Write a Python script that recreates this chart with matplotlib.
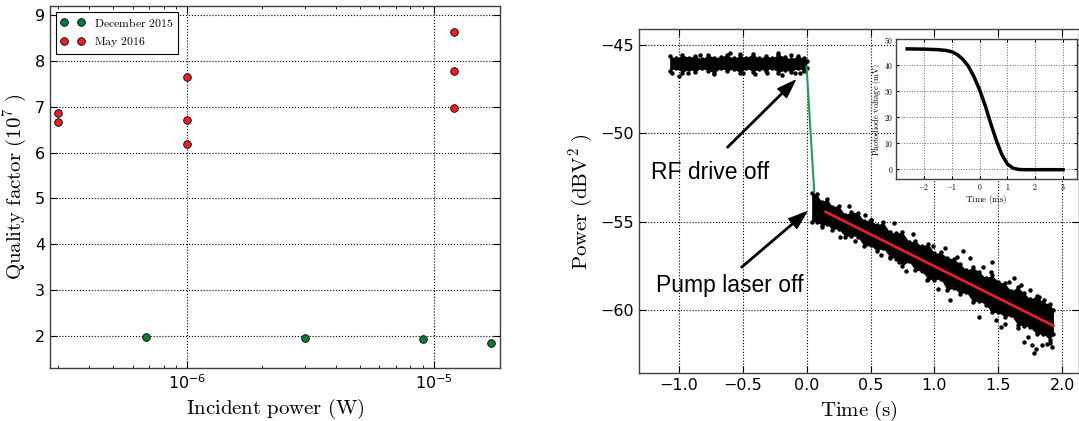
import numpy as np
import matplotlib.pyplot as plt

plt.rcParams['mathtext.fontset'] = 'cm'
plt.rcParams['axes.linewidth'] = 1.0
plt.rcParams['axes.edgecolor'] = '0.25'

# --- left panel: quality factor vs incident power ---
dec_power = [6.8e-7, 3.0e-6, 9.0e-6, 1.71e-5]
dec_q = [1.97, 1.95, 1.93, 1.84]
may_power = [3.0e-7, 3.0e-7, 1.0e-6, 1.0e-6, 1.0e-6, 1.2e-5, 1.2e-5, 1.2e-5]
may_q = [6.87, 6.67, 7.65, 6.72, 6.19, 8.63, 7.77, 6.98]

# --- right panel: ringdown (noisy trace as envelope + stray points) ---
pl_t = [-1.07, -1.02, -0.97, -0.92, -0.87, -0.82, -0.77, -0.72, -0.67, -0.62, -0.57, -0.52,
        -0.47, -0.42, -0.37, -0.32, -0.27, -0.22, -0.17, -0.12, -0.07, -0.02, 0.0]
pl_hi = [-45.6, -45.75, -45.55, -45.7, -45.6, -45.8, -45.55, -45.7, -45.65, -45.55, -45.75, -45.6,
         -45.7, -45.5, -45.75, -45.6, -45.7, -45.55, -45.65, -45.8, -45.6, -45.75, -45.9]
pl_lo = [-46.45, -46.3, -46.55, -46.35, -46.5, -46.3, -46.45, -46.55, -46.3, -46.45, -46.35, -46.55,
         -46.3, -46.5, -46.35, -46.45, -46.3, -46.55, -46.4, -46.5, -46.3, -46.45, -46.3]

dc_t = [0.04, 0.08, 0.12, 0.16, 0.20, 0.25, 0.30, 0.35, 0.40, 0.45, 0.50, 0.55, 0.60, 0.65,
        0.70, 0.75, 0.80, 0.85, 0.90, 0.95, 1.00, 1.05, 1.10, 1.15, 1.20, 1.25, 1.30, 1.35,
        1.40, 1.45, 1.50, 1.55, 1.60, 1.65, 1.70, 1.75, 1.80, 1.85, 1.90, 1.93]
dc_hi = [-53.4, -53.45, -53.9, -53.7, -54.15, -54.1, -54.6, -54.45, -54.5, -54.95, -54.9, -55.2,
         -55.05, -55.6, -55.65, -55.6, -56.15, -56.1, -56.4, -56.25, -56.8, -56.75, -57.05, -57.1,
         -57.4, -57.75, -57.6, -57.85, -58.2, -58.05, -58.4, -58.5, -58.95, -58.7, -59.05, -59.4,
         -59.2, -59.6, -59.65, -60.0]
dc_lo = [-55.0, -55.0, -55.2, -55.15, -55.45, -55.4, -55.85, -55.8, -55.85, -56.4, -56.35, -56.65,
         -56.5, -57.0, -57.1, -57.5, -57.25, -57.75, -57.8, -58.25, -58.3, -58.25, -58.9, -58.75,
         -59.1, -59.0, -59.55, -59.5, -59.7, -60.15, -60.15, -60.4, -60.3, -60.85, -60.9, -61.0,
         -61.4, -61.35, -61.7, -61.4]

stray_t = [-1.0, -0.93, -0.72, -0.5, -0.31, -0.19, -0.09, -0.22, -0.52, -0.83, -0.12,
           -1.05, -0.6, -0.4, -0.05,
           0.26, 0.50, 0.46, 0.68, 0.38, 0.65, 0.72, 0.94, 0.90, 1.22, 1.45, 1.28, 1.35,
           1.44, 1.12, 1.75, 1.73, 1.79, 1.65, 1.90, 1.86, 1.58, 0.99, 1.78, 1.84, 1.88,
           1.70, 1.62, 1.52, 0.12, 0.33, 0.58, 0.83, 1.03, 1.18, 1.38, 1.55, 1.68, 1.82,
           1.92, 1.76, 0.78, 1.08, 1.48]
stray_p = [-46.75, -46.6, -46.65, -46.6, -46.55, -46.7, -46.55, -45.45, -45.5, -45.55, -45.55,
           -46.6, -45.45, -46.65, -46.6,
           -55.85, -54.9, -54.6, -55.1, -56.1, -57.06, -57.3, -58.3, -57.6, -56.65, -57.27,
           -57.05, -60.4, -57.84, -59.45, -58.9, -61.53, -62.2, -61.06, -61.9, -59.45, -58.4,
           -56.4, -62.45, -62.0, -61.95, -61.8, -58.2, -61.0, -55.3, -54.1, -56.9, -55.7,
           -58.8, -57.0, -57.6, -60.8, -58.6, -59.3, -62.1, -62.0, -57.8, -56.5, -60.6]

drop_t = [0.0, 0.06]
drop_p = [-46.2, -53.3]
fit_t = [0.15, 1.93]
fit_p = [-54.45, -60.9]

# --- inset: photodiode voltage ---
pd_t = [-2.6, -2.0, -1.5, -1.2, -1.0, -0.8, -0.6, -0.4, -0.2, 0.0, 0.2, 0.4, 0.6, 0.8,
        1.0, 1.2, 1.4, 1.6, 2.0, 2.5, 3.0]
pd_v = [46.2, 46.1, 45.9, 45.6, 45.1, 44.0, 42.2, 39.5, 35.5, 30.5, 24.5, 17.5, 11.0, 5.5,
        1.8, 0.2, -0.3, -0.4, -0.4, -0.4, -0.4]

green = '#0b7a3c'
red = '#e8202a'

fig = plt.figure(figsize=(10.79, 4.21), dpi=100)


def style(ax, size):
    ax.grid(True, which='major', linestyle=':', color='k', lw=0.8)
    ax.tick_params(which='both', direction='in', top=True, right=True, labelsize=size)
    ax.tick_params(which='major', length=5)
    ax.tick_params(which='minor', length=2.5)


ax1 = fig.add_axes([0.0463, 0.1259, 0.417, 0.860])
ax1.set_xscale('log')
ax1.plot(dec_power, dec_q, 'o', color=green, mec='k', mew=0.6, ms=5.5,
         label=r'$\mathrm{December\ 2015}$')
ax1.plot(may_power, may_q, 'o', color=red, mec='k', mew=0.6, ms=5.5,
         label=r'$\mathrm{May\ 2016}$')
ax1.set_xlim(2.77e-7, 1.85e-5)
ax1.set_ylim(1.3, 9.2)
ax1.set_yticks(range(2, 10))
style(ax1, 11.5)
ax1.set_xlabel(r'$\mathrm{Incident\ power\ (W)}$', fontsize=15)
ax1.set_ylabel(r'$\mathrm{Quality\ factor\ (10^7\ )}$', fontsize=15)
leg = ax1.legend(loc='upper left', numpoints=2, fontsize=8.5, fancybox=False,
                 edgecolor='k', framealpha=1)
leg.get_frame().set_linewidth(0.8)

ax2 = fig.add_axes([0.5922, 0.1133, 0.4078, 0.817])
ax2.fill_between(pl_t, pl_lo, pl_hi, color='k', lw=0)
ax2.fill_between(dc_t, dc_lo, dc_hi, color='k', lw=0)
for tt, pp in [(pl_t, pl_hi), (pl_t, pl_lo), (dc_t, dc_hi), (dc_t, dc_lo), (stray_t, stray_p)]:
    ax2.plot(tt, pp, 'o', color='k', ms=3.2, mew=0)
ax2.plot(drop_t, drop_p, color='#1f9e5a', lw=1.5)
ax2.plot(fit_t, fit_p, color=red, lw=2)
ax2.set_xlim(-1.31, 2.13)
ax2.set_ylim(-63.6, -44.1)
ax2.set_yticks([-60, -55, -50, -45])
ax2.set_xticks([-1.0, -0.5, 0.0, 0.5, 1.0, 1.5, 2.0])
style(ax2, 11.5)
ax2.set_xlabel(r'$\mathrm{Time\ (s)}$', fontsize=15)
ax2.set_ylabel(r'$\mathrm{Power\ (dBV^2\ )}$', fontsize=15)

arrow = dict(facecolor='k', edgecolor='k', width=1.0, headwidth=9, headlength=13, shrink=0)
ax2.annotate('', xy=(-0.09, -47.0), xytext=(-0.62, -50.8), arrowprops=arrow)
ax2.annotate('', xy=(0.0, -54.45), xytext=(-0.51, -57.6), arrowprops=arrow)
ax2.text(-0.75, -52.2, 'RF drive off', fontsize=16.5, family='Liberation Sans',
         ha='center', va='center')
ax2.text(-0.60, -58.6, 'Pump laser off', fontsize=16.5, family='Liberation Sans',
         ha='center', va='center')

ax3 = fig.add_axes([0.8304, 0.5748, 0.1677, 0.3325])
ax3.plot(pd_t, pd_v, color='k', lw=2.5)
ax3.set_xlim(-3, 3.5)
ax3.set_ylim(-4, 50)
xt = [-2, -1, 0, 1, 2, 3]
yt = [0, 10, 20, 30, 40, 50]
ax3.set_xticks(xt, labels=[f'${v}$' for v in xt])
ax3.set_yticks(yt, labels=[f'${v}$' for v in yt])
ax3.grid(True, linestyle=':', color='0.4', lw=0.7)
ax3.tick_params(direction='in', top=True, right=True, labelsize=5.5, length=2.5, pad=2)
ax3.set_xlabel(r'$\mathrm{Time\ (ms)}$', fontsize=6.5, labelpad=1)
ax3.set_ylabel(r'$\mathrm{Photodiode\ voltage\ (mV)}$', fontsize=6, labelpad=1)

fig.savefig('out.png', dpi=100)
